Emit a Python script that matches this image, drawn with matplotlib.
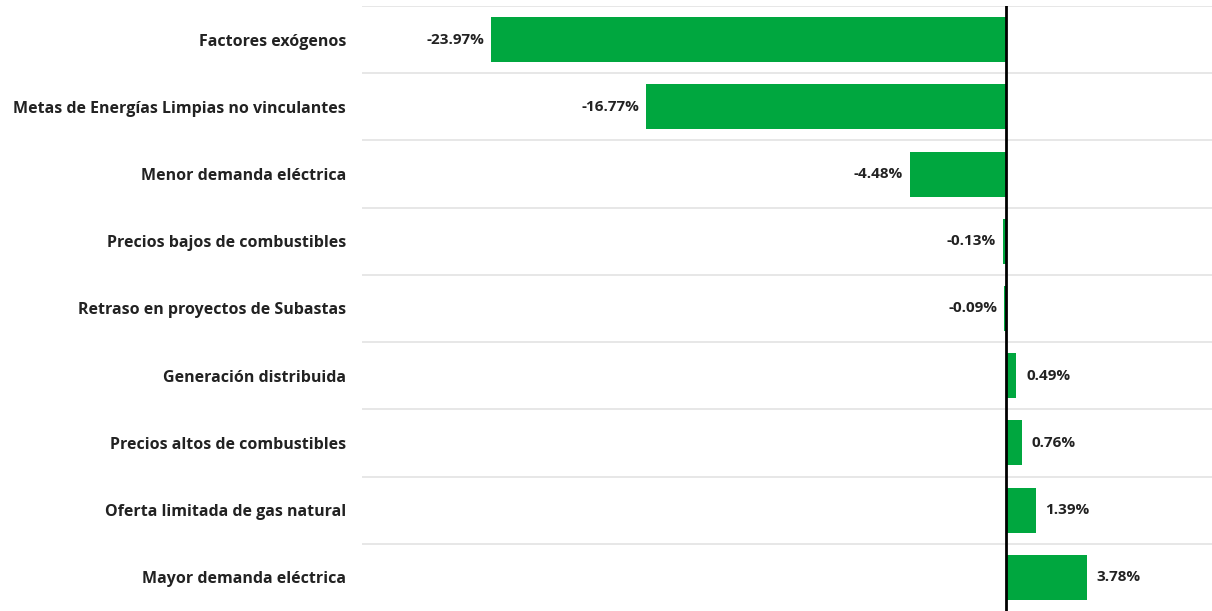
import matplotlib.pyplot as plt
import numpy as np

categorias = ['Factores exógenos',
              'Metas de Energías Limpias no vinculantes',
              'Menor demanda eléctrica',
              'Precios bajos de combustibles',
              'Retraso en proyectos de Subastas',
              'Generación distribuida',
              'Precios altos de combustibles',
              'Oferta limitada de gas natural',
              'Mayor demanda eléctrica']
valores = [-23.97, -16.77, -4.48, -0.13, -0.09, 0.49, 0.76, 1.39, 3.78]

verde = '#00a73f'

fig = plt.figure(figsize=(12.12, 6.11), dpi=100)
ax = fig.add_axes([362 / 1212, 0.0, 1 - 362 / 1212, 605 / 611])

y = np.arange(len(categorias))
ax.barh(y, valores, height=0.67, color=verde, zorder=2)
ax.set_ylim(len(categorias) - 0.5, -0.5)
ax.set_xlim(-30, 9.6)

# separadores entre filas
for k in range(len(categorias)):
    ax.axhline(k - 0.5, color='#e0e0e0', lw=1.1, zorder=1)
ax.axvline(0, color='black', lw=2, zorder=3)

for yi, v in zip(y, valores):
    txt = '%.2f%%' % v
    if v < 0:
        ax.annotate(txt, (v, yi), xytext=(-5, 0), textcoords='offset points',
                    ha='right', va='center', fontsize=11, fontweight='bold',
                    color='#222222', family='Open Sans')
    else:
        ax.annotate(txt, (v, yi), xytext=(7, 0), textcoords='offset points',
                    ha='left', va='center', fontsize=11, fontweight='bold',
                    color='#222222', family='Open Sans')

ax.set_yticks(y)
ax.set_yticklabels(categorias, fontsize=11.5, fontweight='bold', color='#222222',
                   family='Open Sans')
ax.tick_params(axis='y', length=0, pad=11.5)
ax.set_xticks([])
for s in ax.spines.values():
    s.set_visible(False)

plt.savefig('out.png', dpi=100)
